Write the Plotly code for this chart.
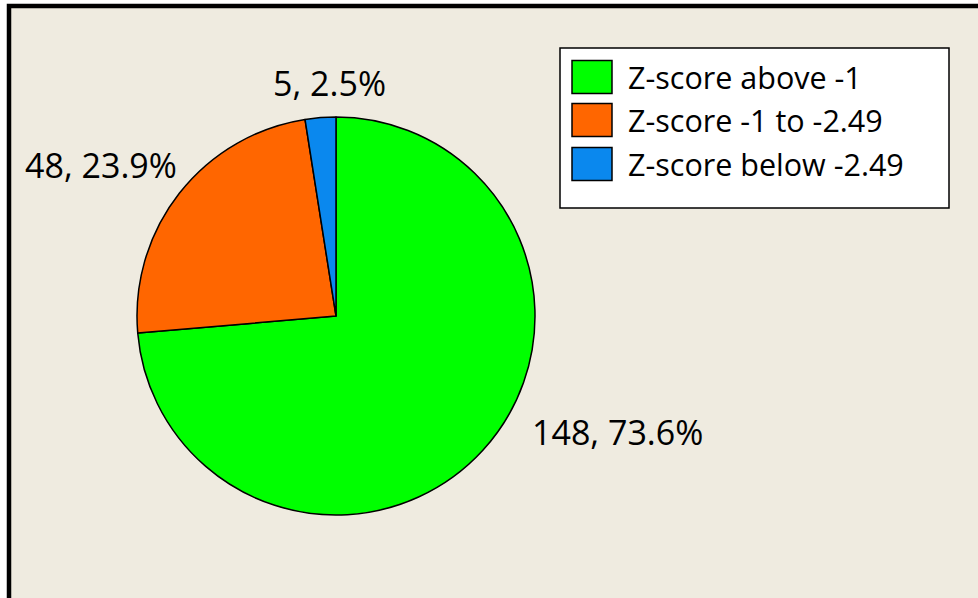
import plotly.graph_objects as go

categories = ["Z-score above -1", "Z-score -1 to -2.49", "Z-score below -2.49"]
counts = [148, 48, 5]
colors = ["#00FF00", "#FF6600", "#0A88EE"]

W, H = 978, 598
total = sum(counts)
label_texts = [f"{c}, {round(100 * c / total, 1)}%" for c in counts]

FONT = "Open Sans"
cx, cy, r = 336, 316, 199

fig = go.Figure()
fig.add_trace(go.Pie(
    labels=categories,
    values=counts,
    sort=False,
    direction="clockwise",
    rotation=0,
    marker=dict(colors=colors, line=dict(color="black", width=1.5)),
    textinfo="none",
    hoverinfo="label+value+percent",
    showlegend=False,
    domain=dict(x=[(cx - r) / W, (cx + r) / W], y=[(H - cy - r) / H, (H - cy + r) / H]),
))

# slice labels placed around the pie
label_pos = [(617, 432), (101, 165), (329, 83)]
annotations = []
for txt, (px, py) in zip(label_texts, label_pos):
    annotations.append(dict(
        x=px / W, y=1 - py / H, xref="paper", yref="paper",
        text=txt, showarrow=False, xanchor="center", yanchor="middle",
        font=dict(family=FONT, size=34, color="black"),
    ))

shapes = [
    # chart frame
    dict(type="rect", xref="paper", yref="paper", layer="below",
         x0=9 / W, x1=1.05, y0=-0.05, y1=1 - 6 / H,
         fillcolor="#EFEBE0", line=dict(color="black", width=4.5)),
    # legend box
    dict(type="rect", xref="paper", yref="paper", layer="below",
         x0=560 / W, x1=949 / W, y0=1 - 208 / H, y1=1 - 48 / H,
         fillcolor="white", line=dict(color="black", width=1.5)),
]

# custom legend entries
rows_y = [77, 120, 164]
for cat, col, ry in zip(categories, colors, rows_y):
    shapes.append(dict(type="rect", xref="paper", yref="paper", layer="below",
                       x0=572 / W, x1=612 / W, y0=1 - (ry + 16.5) / H, y1=1 - (ry - 16.5) / H,
                       fillcolor=col, line=dict(color="black", width=1.5)))
    annotations.append(dict(
        x=626 / W, y=1 - ry / H, xref="paper", yref="paper",
        text=cat, showarrow=False, xanchor="left", yanchor="middle",
        font=dict(family=FONT, size=30.5, color="black"),
    ))

fig.update_layout(
    width=W, height=H,
    margin=dict(l=0, r=0, t=0, b=0),
    paper_bgcolor="white",
    plot_bgcolor="white",
    shapes=shapes,
    annotations=annotations,
    showlegend=False,
)

fig.write_html(
    "out.html",
    config={"displayModeBar": False},
    post_script="document.body.style.margin='0';document.body.style.overflow='hidden';",
)
